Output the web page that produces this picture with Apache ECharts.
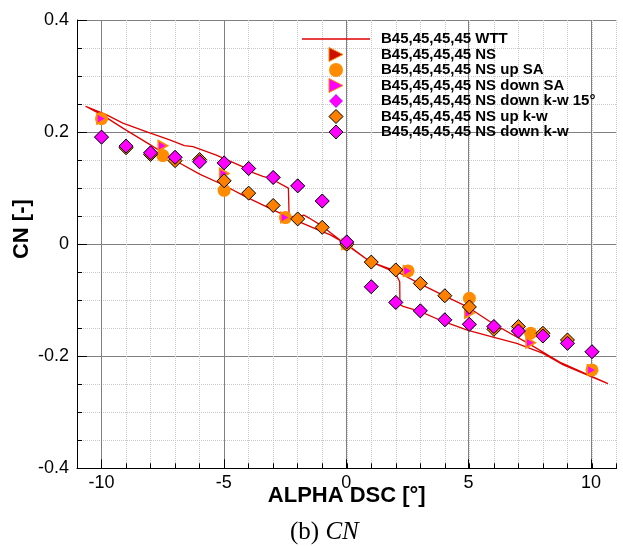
<!DOCTYPE html>
<html><head><meta charset="utf-8">
<script src="https://cdn.jsdelivr.net/npm/echarts@6/dist/echarts.min.js"></script>
<style>html,body{margin:0;padding:0;background:#fff}#c{width:623px;height:546px}</style>
</head><body><div id="c"></div>
<script>
// WTT measured loop (alpha, CN), in sweep order
const wttAlpha = [-10.65,-9.81,-9.13,-8.18,-7.22,-6.62,-6.27,-5.32,-4.23,-3.96,-3.42,-3.14,-2.38,-2.35,-2.05,-1.75,-1.55,-1.03,-0.29,-0.04,
  0.94,1.96,2.95,3.96,4.95,5.97,7.40,8.75,10.65,
  8.83,8.01,6.93,5.97,4.95,3.93,2.98,2.30,2.17,2.16,1.96,0.94,0.0,-0.69,-1.10,-2.10,-3.05,-4.09,-5.05,-6.0,-6.95,-8.04,-9.13,-9.88,-10.65];
const wttCN = [0.246,0.231,0.216,0.201,0.186,0.176,0.174,0.159,0.138,0.130,0.121,0.118,0.100,0.049,0.048,0.052,0.047,0.033,0.008,0.000,
  -0.031,-0.047,-0.070,-0.092,-0.1125,-0.142,-0.177,-0.212,-0.249,
  -0.2155,-0.195,-0.177,-0.166,-0.154,-0.138,-0.120,-0.111,-0.108,-0.067,-0.050,-0.031,0.0,0.017,0.024,0.043,0.062,0.084,0.106,0.125,0.148,0.178,0.207,0.228,0.246];

// SA computations
const saAlpha = [-10,-7.5,-5,-2.5,0,2.5,5,7.5,10];
const nsCN = [0.224,0.1755,0.126,0.0475,0.0,-0.0477,-0.123,-0.176,-0.2245];
const upSACN = [0.224,0.158,0.096,0.0475,0.0,-0.0477,-0.0965,-0.159,-0.2245];
const downSACN = [0.224,0.1755,0.126,0.0475,0.0,-0.0477,-0.123,-0.176,-0.2245];

// k-w computations
const kwDownAlpha = [-10,-9,-8,-7,-6,-5,-4,-3,-2,-1,0,1,2,3,4,5,6,7,8,9,10];
const downKW15CN = [0.191,0.175,0.163,0.155,0.147,0.145,0.135,0.119,0.104,0.077,0.004,-0.076,-0.104,-0.119,-0.135,-0.143,-0.147,-0.155,-0.164,-0.177,-0.192];
const downKWCN = [0.191,0.175,0.163,0.155,0.147,0.145,0.135,0.119,0.104,0.077,0.004,-0.076,-0.104,-0.119,-0.135,-0.143,-0.147,-0.155,-0.164,-0.177,-0.192];
const kwUpAlpha = [-9,-8,-7,-6,-5,-4,-3,-2,-1,0,1,2,3,4,5,6,7,8,9];
const upKWCN = [0.172,0.160,0.149,0.151,0.113,0.091,0.069,0.045,0.030,0.000,-0.032,-0.046,-0.070,-0.092,-0.112,-0.152,-0.147,-0.159,-0.171];

const seriesNames = ['B45,45,45,45 WTT','B45,45,45,45 NS','B45,45,45,45 NS up SA','B45,45,45,45 NS down SA','B45,45,45,45 NS down k-w 15°','B45,45,45,45 NS up k-w','B45,45,45,45 NS down k-w'];

const zip = (xs, ys) => xs.map((x, i) => [x, ys[i]]);
const TRI = 'path://M0,0L10,5L0,10Z';
const DIA = 'path://M5,0L10,5L5,10L0,5Z';
const LINE_ICON = 'path://M0,0L68,0L68,1.6L0,1.6Z';
const FONT = 'Liberation Sans';

const legendData = seriesNames.map((n, i) => i === 0
  ? {name: n, icon: LINE_ICON, itemStyle: {borderWidth: 0}}
  : {name: n});

const chart = echarts.init(document.getElementById('c'), null, {renderer: 'canvas'});
chart.setOption({
  animation: false,
  backgroundColor: '#fff',
  title: {
    text: '{a|(b) }{b|CN}',
    left: 285, top: 515,
    textStyle: {fontWeight: 'normal', rich: {
      a: {fontFamily: 'Liberation Serif', fontWeight: 'normal', fontSize: 25, color: '#000'},
      b: {fontFamily: 'Liberation Serif', fontWeight: 'normal', fontStyle: 'italic', fontSize: 25, color: '#000'}
    }}
  },
  legend: {
    orient: 'vertical', left: 302, top: 31.5, padding: 0,
    itemWidth: 68, itemHeight: 14, itemGap: 0.5,
    symbolKeepAspect: true,
    data: legendData,
    textStyle: {fontFamily: FONT, fontWeight: 'bold', fontSize: 15, color: '#000', padding: [0,0,0,6]},
    itemStyle: {borderWidth: 1}
  },
  grid: [
    {left: 77, right: 6.5, top: 20, bottom: 77.7, containLabel: false, outerBoundsMode: 'none'},
    {left: 101.5, right: 32, top: 20, bottom: 77.7, containLabel: false, outerBoundsMode: 'none'}
  ],
  xAxis: [
    {type: 'value', gridIndex: 0, min: -11, max: 11, interval: 1,
     name: 'ALPHA DSC [°]', nameLocation: 'middle', nameGap: 17, nameMoveOverlap: false,
     nameTextStyle: {fontFamily: FONT, fontWeight: 'bold', fontSize: 22, color: '#000'},
     axisLine: {show: true, onZero: false, lineStyle: {color: '#000', width: 1}},
     axisTick: {show: true, inside: true, length: 5, lineStyle: {color: '#000'}},
     axisLabel: {show: false},
     splitLine: {show: true, lineStyle: {type: 'dotted', color: '#c8c8c8', width: 1}}},
    {type: 'value', gridIndex: 1, min: -10, max: 10, interval: 5,
     axisLine: {show: false, onZero: false},
     axisTick: {show: true, inside: true, length: 9, lineStyle: {color: '#000'}},
     axisLabel: {show: true, margin: 6, fontFamily: FONT, fontSize: 18, color: '#000'},
     splitLine: {show: true, lineStyle: {type: 'solid', color: '#808080', width: 1}}}
  ],
  yAxis: [
    {type: 'value', gridIndex: 0, min: -0.4, max: 0.4, interval: 0.2,
     name: 'CN [-]', nameLocation: 'middle', nameGap: 44, nameMoveOverlap: false,
     nameTextStyle: {fontFamily: FONT, fontWeight: 'bold', fontSize: 22, color: '#000', padding: [0,0,0,30]},
     axisLine: {show: true, onZero: false, lineStyle: {color: '#000', width: 1}},
     axisTick: {show: true, inside: true, length: 10, lineStyle: {color: '#000'}},
     minorTick: {show: true, splitNumber: 4, length: 5, lineStyle: {color: '#000'}},
     axisLabel: {show: true, margin: 8, fontFamily: FONT, fontSize: 18, color: '#000'},
     splitLine: {show: true, lineStyle: {type: 'solid', color: '#808080', width: 1}},
     minorSplitLine: {show: true, lineStyle: {type: 'dotted', color: '#c8c8c8', width: 1}}},
    {type: 'value', gridIndex: 1, min: -0.4, max: 0.4, show: false,
     axisLine: {show: false, onZero: false}, splitLine: {show: false}}
  ],
  series: [
    {name: seriesNames[0], type: 'line', data: zip(wttAlpha, wttCN), symbol: 'none',
     lineStyle: {color: '#e00000', width: 1.3}, itemStyle: {color: '#e00000'}, z: 2},
    {name: seriesNames[1], type: 'scatter', data: zip(saAlpha, nsCN), symbol: TRI, symbolSize: [9, 10],
     itemStyle: {color: '#cc1100', borderColor: '#ff8c00', borderWidth: 1.5, opacity: 1}, z: 3},
    {name: seriesNames[2], type: 'scatter', data: zip(saAlpha, upSACN), symbol: 'circle', symbolSize: 13,
     itemStyle: {color: '#ff8c00', opacity: 1}, z: 3},
    {name: seriesNames[3], type: 'scatter', data: zip(saAlpha, downSACN), symbol: TRI, symbolSize: [9, 10],
     itemStyle: {color: '#ff00ff', borderColor: '#ff8c00', borderWidth: 1.5, opacity: 1}, z: 3},
    {name: seriesNames[4], type: 'scatter', data: zip(kwDownAlpha, downKW15CN), symbol: DIA, symbolSize: 14,
     itemStyle: {color: '#ff00ff', borderColor: '#b4a0ff', borderWidth: 1, opacity: 1}, z: 3},
    {name: seriesNames[5], type: 'scatter', data: zip(kwUpAlpha, upKWCN), symbol: DIA, symbolSize: 14,
     itemStyle: {color: '#ff8000', borderColor: '#000', borderWidth: 1, opacity: 1}, z: 3},
    {name: seriesNames[6], type: 'scatter', data: zip(kwDownAlpha, downKWCN), symbol: DIA, symbolSize: 14,
     itemStyle: {color: '#ff00ff', borderColor: '#000', borderWidth: 1, opacity: 1}, z: 3}
  ]
});
</script>
</body></html>
